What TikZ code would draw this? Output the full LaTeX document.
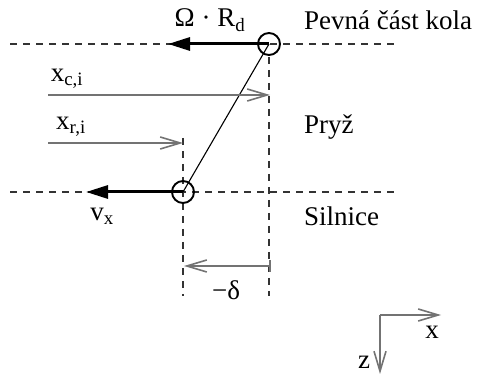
\documentclass[tikz,border=0pt]{standalone}
\usepackage{fontspec}
\setmainfont{Liberation Serif}
\usetikzlibrary{arrows.meta}
\tikzset{
  dash line/.style={draw=black!80, line width=1.5pt, dash pattern=on 7pt off 6pt},
  thick arrow/.style={draw=black, line width=3pt, -{Triangle[length=22pt,width=13pt]}},
  gray arrow/.style={draw=black!55, line width=2.2pt, -{Straight Barb[length=20pt,width=12pt,line width=1.6pt]}},
  wheel pt/.style={circle, draw=black, line width=1.9pt, minimum size=22pt, inner sep=0pt},
  lbl/.style={font=\fontsize{27}{30}\selectfont, inner sep=0pt},
}
\begin{document}
\begin{tikzpicture}[x=1pt,y=-1pt]
\useasboundingbox (0,0) rectangle (477,374);
% dashed guide lines
\coordinate (tl) at (10,44);
\coordinate (tr) at (395,44);
\coordinate (bl) at (10,192);
\coordinate (br) at (400,192);
\draw[dash line] (tl) -- (tr);
\draw[dash line] (bl) -- (br);
\coordinate (vr1) at (269,57);
\coordinate (vr2) at (269,296);
\coordinate (vl1) at (183,138);
\coordinate (vl2) at (183,296);
\draw[dash line] (vr1) -- (vr2);
\draw[dash line] (vl1) -- (vl2);
% points
\node[wheel pt] (top) at (269,44) {};
\node[wheel pt] (bot) at (183,192) {};
\draw[line width=1.1pt] (bot.center) -- (top.center);
% thick arrows
\coordinate (omtip) at (168,44);
\coordinate (vxtip) at (86,192);
\draw[thick arrow] (top.center) -- (omtip);
\draw[thick arrow] (bot.center) -- (vxtip);
% gray arrows
\coordinate (xc0) at (48,95);
\coordinate (xc1) at (270,95);
\coordinate (xr0) at (48,143);
\coordinate (xr1) at (183,143);
\draw[gray arrow] (xc0) -- (xc1);
\draw[gray arrow] (xr0) -- (xr1);
\coordinate (d0) at (270,266);
\coordinate (d1) at (184,266);
\draw[gray arrow] (d0) -- (d1);
\draw[draw=black!55, line width=2.2pt] (270,260) -- (270,272);
% axes
\coordinate (ax) at (380,315);
\coordinate (axx) at (441,315);
\coordinate (axz) at (380,374);
\draw[gray arrow] (ax) -- (axx);
\draw[gray arrow] (ax) -- (axz);
% labels
\node[lbl] (om) at (210,20) {Ω · R\textsubscript{d}};
\node[lbl, anchor=west] (pev) at (304,20) {Pevná část kola};
\node[lbl, anchor=west] (pry) at (304,127) {Pryž};
\node[lbl, anchor=west] (sil) at (304,216) {Silnice};
\node[lbl] (xcl) at (67,79) {x\textsubscript{c,i}};
\node[lbl] (xrl) at (71,127) {x\textsubscript{r,i}};
\node[lbl] (vxl) at (102,216) {v\textsubscript{x}};
\node[lbl] (dl) at (226,290) {−δ};
\node[lbl] (xl) at (432,332) {x};
\node[lbl] (zl) at (364,362) {z};
\end{tikzpicture}
\end{document}
